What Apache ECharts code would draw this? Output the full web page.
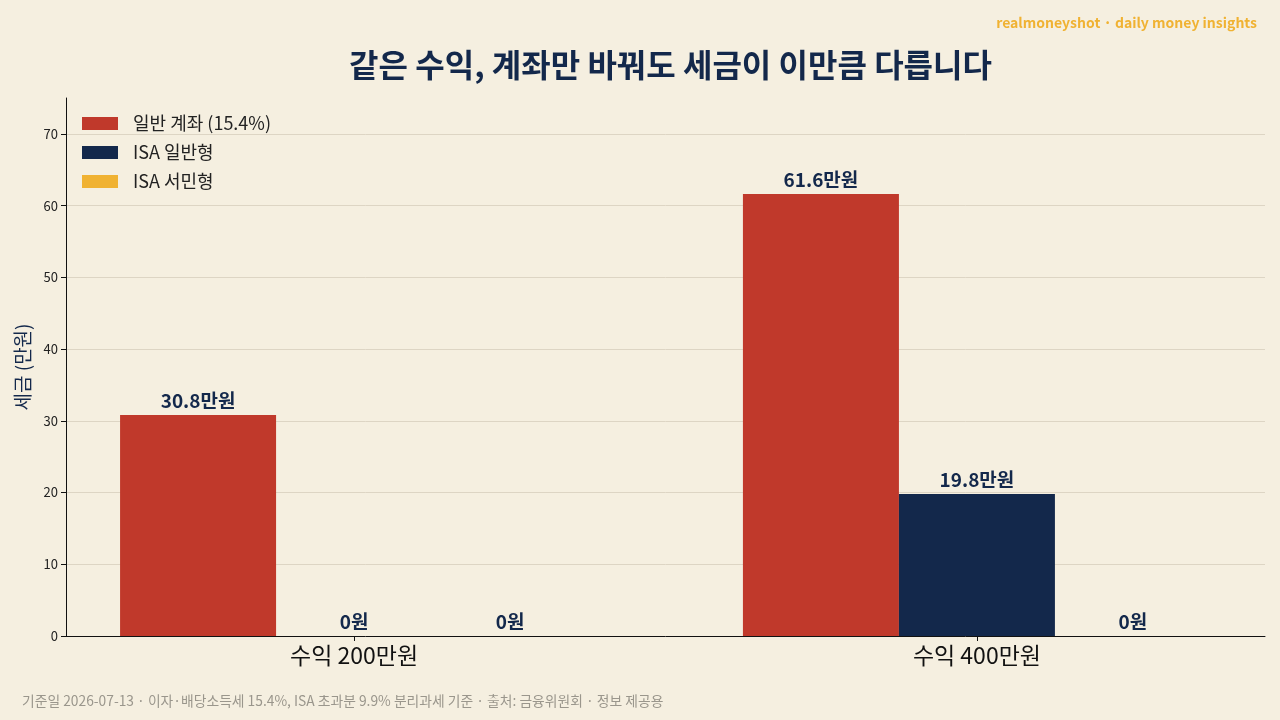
<!DOCTYPE html>
<html>
<head>
<meta charset="utf-8">
<script src="https://cdn.jsdelivr.net/npm/echarts@6/dist/echarts.min.js"></script>
<style>
  html, body { margin: 0; padding: 0; background: #f5efe0; }
  #main { width: 1280px; height: 720px; }
</style>
</head>
<body>
<div id="main"></div>
<script>
// 데이터
const categories = ['수익 200만원', '수익 400만원'];
const seriesNames = ['일반 계좌 (15.4%)', 'ISA 일반형', 'ISA 서민형'];
const generalTax = [30.8, 61.6];
const isaGeneralTax = [0, 19.8];
const isaLowIncomeTax = [0, 0];
const yTicks = [0, 10, 20, 30, 40, 50, 60, 70];

const colors = ['#c0392b', '#13284b', '#f0b232'];
const font = '"Noto Sans CJK KR", "Noto Sans", sans-serif';

const chart = echarts.init(document.getElementById('main'));

const toPoints = arr => arr.map((v, i) => [i, v]);
const fmtLabel = p => (p.value[1] === 0 ? '0원' : p.value[1] + '만원');

const makeSeries = (name, data, color) => ({
  name: name,
  type: 'bar',
  data: toPoints(data),
  barWidth: 156,
  barGap: '0%',
  itemStyle: { color: color },
  label: {
    show: true,
    position: 'top',
    distance: 5,
    formatter: fmtLabel,
    fontFamily: font,
    fontSize: 19,
    fontWeight: 'bold',
    color: '#13284b'
  }
});

const option = {
  backgroundColor: '#f5efe0',
  animation: false,
  textStyle: { fontFamily: font },
  title: [
    {
      text: '같은 수익, 계좌만 바꿔도 세금이 이만큼 다릅니다',
      left: 665.5,
      textAlign: 'center',
      top: 44,
      textStyle: { fontFamily: font, fontSize: 32, fontWeight: 'bold', color: '#13284b' }
    },
    {
      text: 'realmoneyshot · daily money insights',
      right: 18,
      top: 11,
      textStyle: { fontFamily: font, fontSize: 14, fontWeight: 'bold', color: '#f0b232' }
    },
    {
      text: '기준일 2026-07-13 · 이자·배당소득세 15.4%, ISA 초과분 9.9% 분리과세 기준 · 출처: 금융위원회 · 정보 제공용',
      left: 17,
      top: 689,
      textStyle: { fontFamily: font, fontSize: 13.8, fontWeight: 'normal', color: '#9a968c' }
    }
  ],
  legend: {
    data: seriesNames,
    orient: 'vertical',
    left: 77,
    top: 108,
    itemWidth: 36,
    itemHeight: 13,
    itemGap: 8,
    icon: 'rect',
    textStyle: { fontFamily: font, fontSize: 18, color: '#222', lineHeight: 21, padding: [0, 0, 0, 10] }
  },
  grid: { left: 66, right: 15, top: 98, bottom: 84, containLabel: false },
  xAxis: {
    type: 'value',
    min: -0.4625,
    max: 1.4625,
    axisLine: { show: true, onZero: false, lineStyle: { color: '#111', width: 1 } },
    axisTick: { show: true, customValues: [0, 1], length: 5, lineStyle: { color: '#111' } },
    axisLabel: {
      show: true,
      customValues: [0, 1],
      formatter: v => categories[Math.round(v)],
      fontFamily: font,
      fontSize: 23,
      color: '#111',
      margin: 8
    },
    splitLine: { show: false }
  },
  yAxis: {
    type: 'value',
    min: 0,
    max: 75,
    interval: 10,
    name: '세금 (만원)',
    nameLocation: 'middle',
    nameGap: 32,
    nameTextStyle: { fontFamily: font, fontSize: 19, color: '#13284b' },
    axisLine: { show: true, onZero: false, lineStyle: { color: '#111', width: 1 } },
    axisTick: { show: true, length: 5, lineStyle: { color: '#111' } },
    axisLabel: {
      showMaxLabel: false,
      fontFamily: font,
      fontSize: 13,
      color: '#222',
      margin: 8,
      formatter: v => (yTicks.includes(v) ? String(v) : '')
    },
    splitLine: { show: true, showMaxLine: false, lineStyle: { color: '#ddd5c4', width: 1 } }
  },
  series: [
    makeSeries(seriesNames[0], generalTax, colors[0]),
    makeSeries(seriesNames[1], isaGeneralTax, colors[1]),
    makeSeries(seriesNames[2], isaLowIncomeTax, colors[2])
  ]
};

chart.setOption(option);
</script>
</body>
</html>
